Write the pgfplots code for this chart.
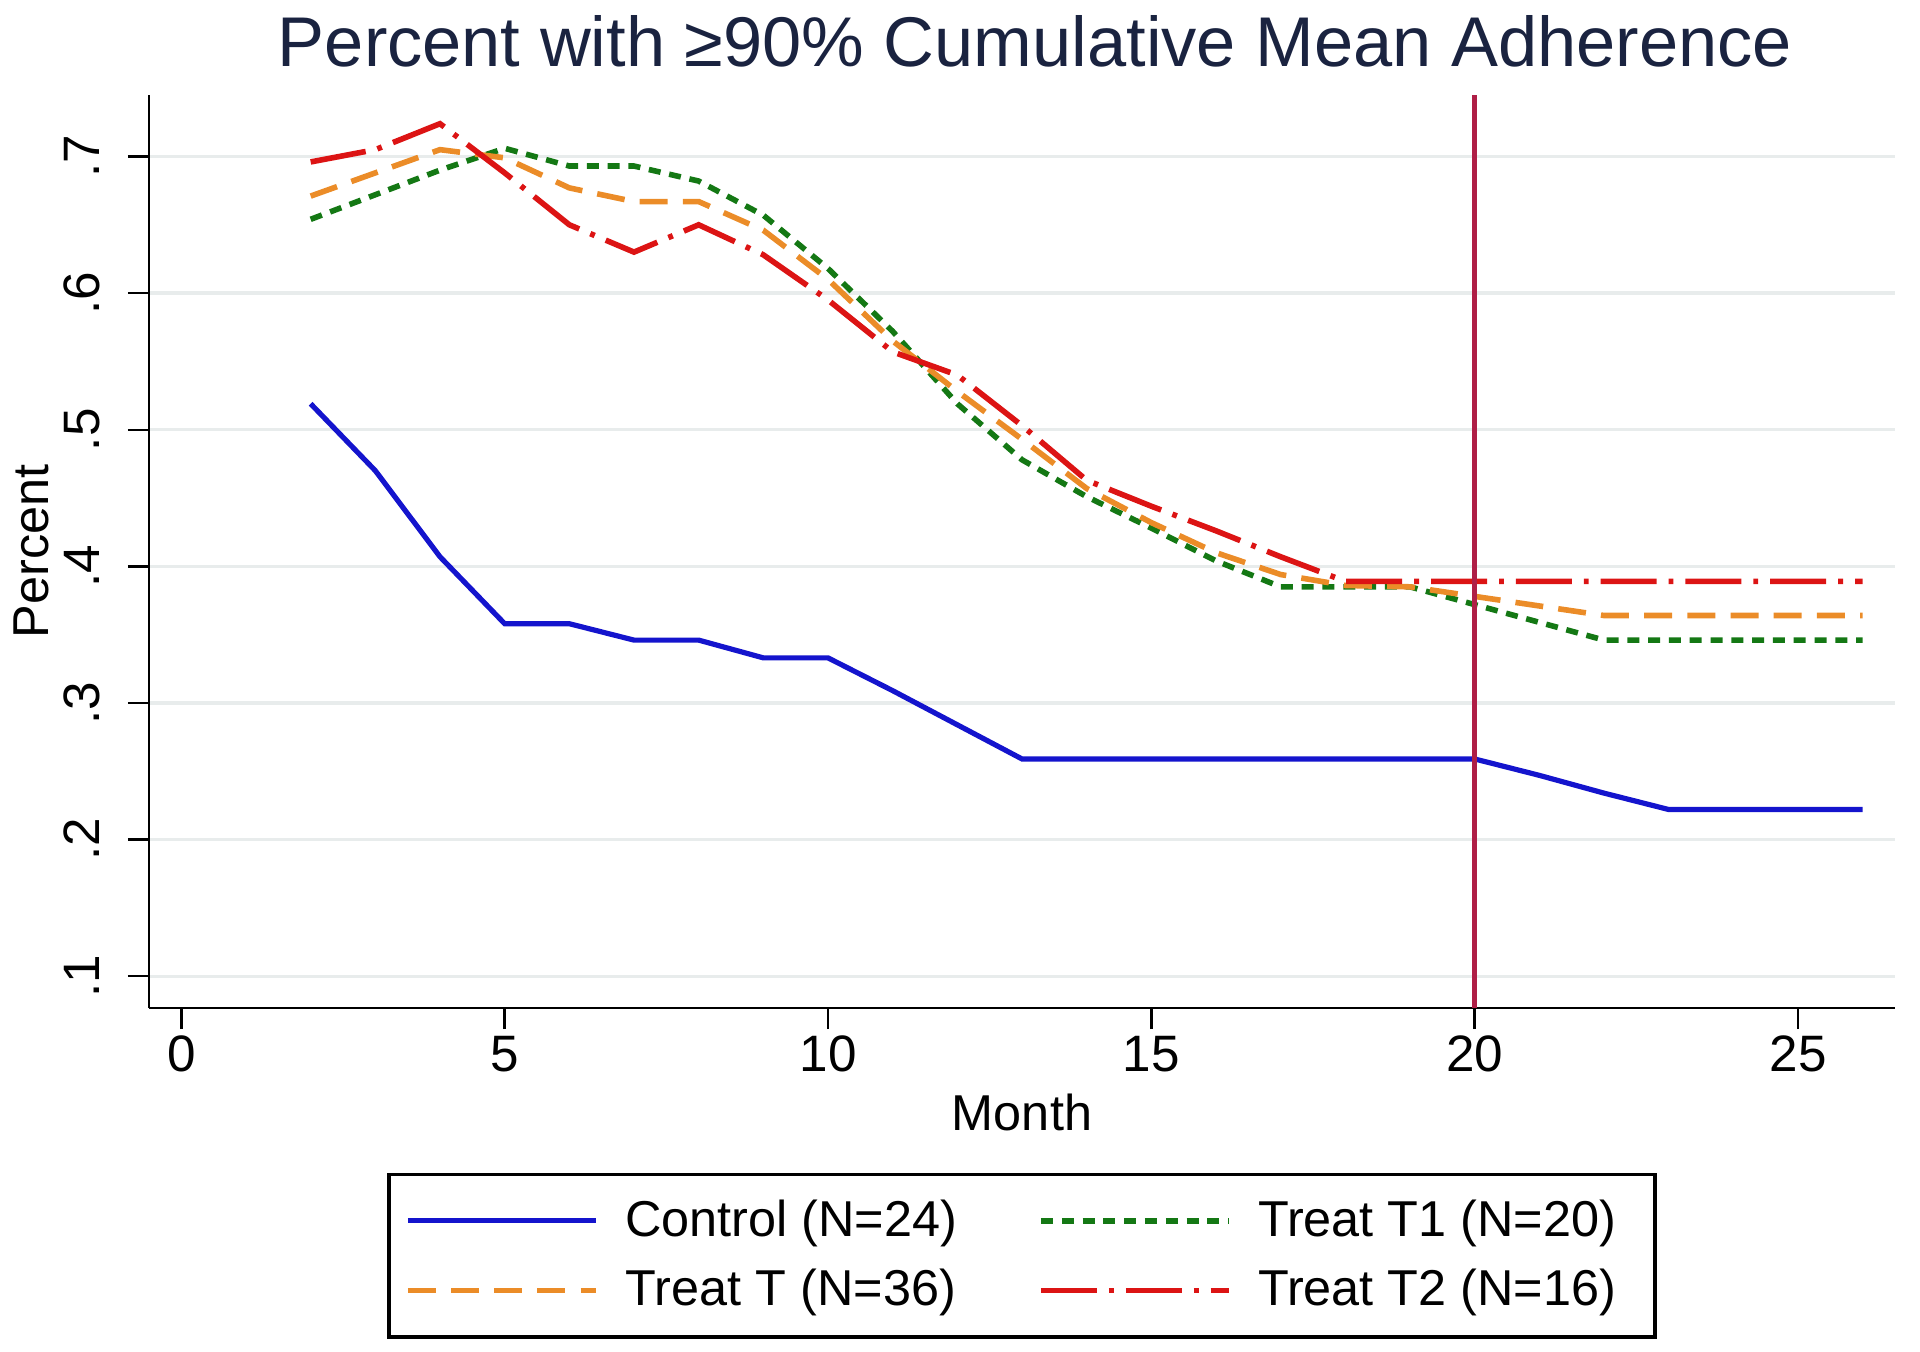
\documentclass[border=0pt]{standalone}
\usepackage{fontspec}
\setmainfont{Liberation Sans}
\usepackage{pgfplots}
\pgfplotsset{compat=1.18}

\definecolor{ctrlblue}{RGB}{20,20,205}
\definecolor{tgreen}{RGB}{20,120,20}
\definecolor{torange}{RGB}{235,140,40}
\definecolor{tred}{RGB}{220,20,20}
\definecolor{vline}{RGB}{175,30,70}
\definecolor{gridgray}{RGB}{232,236,236}
\definecolor{titlenavy}{RGB}{26,35,64}

\begin{document}
\begin{tikzpicture}
\begin{axis}[
    scale only axis,
    width=436.5pt,
    height=228.25pt,
    xmin=-0.5, xmax=26.5,
    ymin=0.0767, ymax=0.745,
    axis lines*=left,
    axis line style={black, line width=0.7pt},
    xtick={0,5,10,15,20,25},
    ytick={0.1,0.2,0.3,0.4,0.5,0.6,0.7},
    yticklabels={.1,.2,.3,.4,.5,.6,.7},
    tick align=outside,
    major tick length=5.3pt,
    tick style={black, line width=0.6pt},
    /pgf/number format/assume math mode=true,
    tick label style={font=\fontsize{12.8}{15}\selectfont},
    xticklabel style={yshift=1.8pt},
    yticklabel style={rotate=90, anchor=base},
    yticklabel shift=7pt,
    ymajorgrids,
    major grid style={gridgray, line width=0.8pt},
    title={Percent with ≥90\% Cumulative Mean Adherence},
    title style={at={(axis description cs:0.5074,1.0329)}, anchor=center,
        inner sep=0pt, font=\fontsize{17.6}{20}\selectfont, text=titlenavy},
    xlabel={Month},
    xlabel style={at={(axis description cs:0.5,-0.114)}, anchor=center,
        font=\fontsize{12.6}{15}\selectfont},
    ylabel={Percent},
    ylabel style={at={(axis description cs:-0.0676,0.5)}, anchor=center,
        font=\fontsize{12.6}{15}\selectfont},
    legend columns=2,
    legend style={at={(0.5,0)}, anchor=north, yshift=-41.2pt,
        draw=black, line width=0.8pt,
        font=\fontsize{12.6}{15}\selectfont,
        /tikz/every odd column/.append style={column sep=4.6pt},
        /tikz/every even column/.append style={column sep=18.3pt},
        row sep=2.8pt, inner xsep=4pt, inner ysep=4.3pt},
    legend image code/.code={\draw[#1] (0pt,0pt) -- (47pt,0pt);},
]
\addplot[ctrlblue, line width=1.3pt] coordinates {
    (2,0.519) (3,0.470) (4,0.407) (5,0.358) (6,0.358) (7,0.346) (8,0.346)
    (9,0.333) (10,0.333) (11,0.309) (12,0.284) (13,0.259) (14,0.259)
    (15,0.259) (16,0.259) (17,0.259) (18,0.259) (19,0.259) (20,0.259)
    (21,0.247) (22,0.234) (23,0.222) (24,0.222) (25,0.222) (26,0.222)
};
\addlegendentry{Control (N=24)}
\addplot[tgreen, line width=1.4pt, dash pattern=on 3pt off 2.2pt] coordinates {
    (2,0.654) (3,0.672) (4,0.690) (5,0.706) (6,0.693) (7,0.693) (8,0.682)
    (9,0.657) (10,0.618) (11,0.572) (12,0.519) (13,0.478) (14,0.451)
    (15,0.428) (16,0.404) (17,0.385) (18,0.385) (19,0.385) (20,0.372)
    (21,0.359) (22,0.346) (23,0.346) (24,0.346) (25,0.346) (26,0.346)
};
\addlegendentry{Treat T1 (N=20)\kern3.7pt\relax}
\addplot[torange, line width=1.4pt, dash pattern=on 7pt off 3.8pt] coordinates {
    (2,0.671) (3,0.688) (4,0.705) (5,0.699) (6,0.677) (7,0.667) (8,0.667)
    (9,0.646) (10,0.610) (11,0.565) (12,0.528) (13,0.493) (14,0.457)
    (15,0.432) (16,0.410) (17,0.394) (18,0.386) (19,0.385) (20,0.378)
    (21,0.371) (22,0.364) (23,0.364) (24,0.364) (25,0.364) (26,0.364)
};
\addlegendentry{Treat T (N=36)}
\addplot[tred, line width=1.4pt, dash pattern=on 14pt off 3pt on 1.2pt off 3pt] coordinates {
    (2,0.696) (3,0.705) (4,0.724) (5,0.688) (6,0.650) (7,0.630) (8,0.650)
    (9,0.628) (10,0.595) (11,0.557) (12,0.540) (13,0.503) (14,0.463)
    (15,0.444) (16,0.426) (17,0.407) (18,0.389) (19,0.389) (20,0.389)
    (21,0.389) (22,0.389) (23,0.389) (24,0.389) (25,0.389) (26,0.389)
};
\addlegendentry{Treat T2 (N=16)\kern3.7pt\relax}
\addplot[vline, line width=1.1pt, forget plot] coordinates {(20,0.0767) (20,0.745)};
\end{axis}
\path (current axis.south west) ++(-37.25pt,-85.75pt)
      (current axis.north east) ++(6.25pt,23.75pt);
\end{tikzpicture}
\end{document}
